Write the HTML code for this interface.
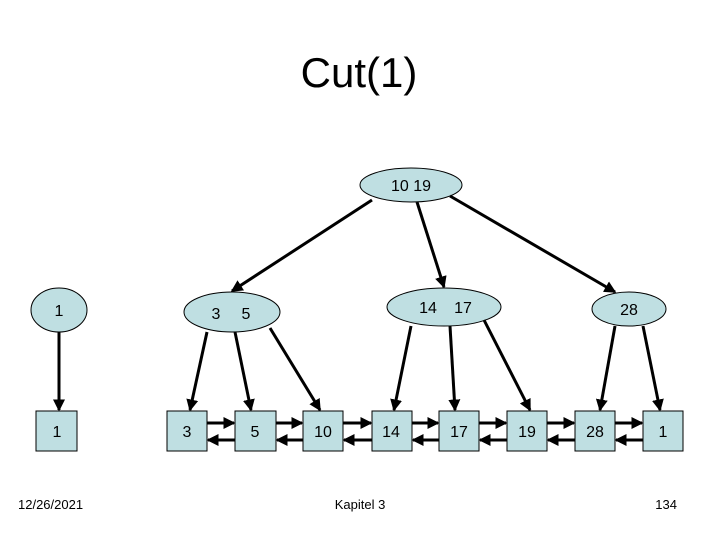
<!DOCTYPE html>
<html><head><meta charset="utf-8"><style>
html,body{margin:0;padding:0;background:#fff;}
svg{display:block;font-family:"Liberation Sans",Arial,sans-serif;}
</style></head><body>
<svg width="720" height="540" viewBox="0 0 720 540">
<defs>
<marker id="a" markerWidth="4" markerHeight="4" refX="3.5" refY="2" orient="auto" markerUnits="strokeWidth">
<path d="M0,0 L4,2 L0,4 z" fill="#000"/></marker>
</defs>
<text x="359" y="87" font-size="42" text-anchor="middle">Cut(1)</text>
<g fill="#bfdfe2" stroke="#000" stroke-width="1">
<ellipse cx="411" cy="185" rx="51" ry="17"/>
<ellipse cx="59" cy="310" rx="28" ry="22"/>
<ellipse cx="232" cy="312" rx="48" ry="20"/>
<ellipse cx="444" cy="307" rx="57" ry="19"/>
<ellipse cx="629" cy="309" rx="37" ry="17"/>
<rect x="36" y="411" width="41" height="40"/>
<rect x="167" y="411" width="40" height="40"/>
<rect x="235" y="411" width="41" height="40"/>
<rect x="303" y="411" width="40" height="40"/>
<rect x="372" y="411" width="40" height="40"/>
<rect x="439" y="411" width="40" height="40"/>
<rect x="507" y="411" width="40" height="40"/>
<rect x="575" y="411" width="40" height="40"/>
<rect x="643" y="411" width="40" height="40"/>
</g>
<g stroke="#000" stroke-width="3" marker-end="url(#a)">
<line x1="372" y1="200" x2="232" y2="291"/>
<line x1="417" y1="202" x2="444" y2="287"/>
<line x1="450" y1="196" x2="615" y2="292"/>
<line x1="59" y1="332" x2="59" y2="410"/>
<line x1="207" y1="332" x2="190" y2="410"/>
<line x1="235" y1="332" x2="251" y2="410"/>
<line x1="270" y1="328" x2="320" y2="410"/>
<line x1="411" y1="326" x2="394" y2="410"/>
<line x1="450" y1="326" x2="455" y2="410"/>
<line x1="484" y1="320" x2="530" y2="410"/>
<line x1="615" y1="326" x2="600" y2="410"/>
<line x1="643" y1="326" x2="660" y2="410"/>
<line x1="207" y1="423" x2="234" y2="423"/>
<line x1="276" y1="423" x2="302" y2="423"/>
<line x1="343" y1="423" x2="371" y2="423"/>
<line x1="412" y1="423" x2="438" y2="423"/>
<line x1="479" y1="423" x2="506" y2="423"/>
<line x1="547" y1="423" x2="574" y2="423"/>
<line x1="615" y1="423" x2="642" y2="423"/>
<line x1="235" y1="440" x2="208" y2="440"/>
<line x1="303" y1="440" x2="277" y2="440"/>
<line x1="372" y1="440" x2="344" y2="440"/>
<line x1="439" y1="440" x2="413" y2="440"/>
<line x1="507" y1="440" x2="480" y2="440"/>
<line x1="575" y1="440" x2="548" y2="440"/>
<line x1="643" y1="440" x2="616" y2="440"/>
</g>
<g font-size="16" text-anchor="middle">
<text x="411" y="191">10  19</text>
<text x="59" y="316">1</text>
<text x="216" y="319">3</text>
<text x="246" y="319">5</text>
<text x="428" y="313">14</text>
<text x="463" y="313">17</text>
<text x="629" y="315">28</text>
<text x="57" y="437">1</text>
<text x="187" y="437">3</text>
<text x="255" y="437">5</text>
<text x="323" y="437">10</text>
<text x="391" y="437">14</text>
<text x="459" y="437">17</text>
<text x="527" y="437">19</text>
<text x="595" y="437">28</text>
<text x="663" y="437">1</text>
</g>
<g font-size="13">
<text x="18" y="509">12/26/2021</text>
<text x="360" y="509" text-anchor="middle">Kapitel 3</text>
<text x="677" y="509" text-anchor="end">134</text>
</g>
</svg>
</body></html>
